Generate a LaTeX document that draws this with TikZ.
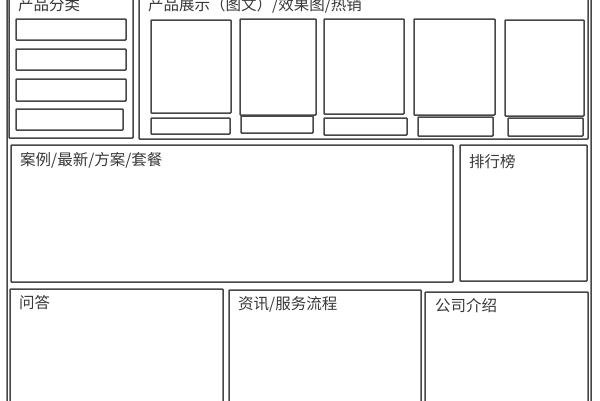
\documentclass[tikz,border=0pt]{standalone}
\usepackage{fontspec}
\newfontfamily\cjk{Noto Sans CJK SC}
\begin{document}
\begin{tikzpicture}[x=1pt,y=-1pt,
  box/.style={draw=black!72,line width=1.5pt,rounded corners=0.8pt},
  lbl/.style={anchor=west,inner sep=0pt,font=\cjk\fontsize{15.5}{16}\selectfont,text=black!78}]
\useasboundingbox[fill=white] (0,0) rectangle (600,400);
\begin{scope}
\clip (0,0) rectangle (600,400);
% outer frame
\draw[box] (7,-10) rectangle (591,410);
% top left panel
\draw[box] (9,-10) rectangle (133,138);
\draw[box] (16,19) rectangle (126,40);
\draw[box] (16,49) rectangle (126,70);
\draw[box] (16,79) rectangle (126,101);
\draw[box] (16,109) rectangle (123,130);
% top right panel
\draw[box] (139,-10) rectangle (588,139);
\draw[box] (151,20) rectangle (231,113);
\draw[box] (151,118) rectangle (230,134);
\draw[box] (240,19) rectangle (316,115);
\draw[box] (241,116) rectangle (313,133);
\draw[box] (324,19) rectangle (404,114);
\draw[box] (324,118) rectangle (407,135);
\draw[box] (414,19) rectangle (495,115);
\draw[box] (418,117) rectangle (493,136);
\draw[box] (505,20) rectangle (584,116);
\draw[box] (508,118) rectangle (583,136);
% middle row
\draw[box] (11,145) rectangle (453,282);
\draw[box] (460,145) rectangle (587,281);
% bottom row
\draw[box] (10,289) rectangle (223,410);
\draw[box] (229,290) rectangle (421,410);
\draw[box] (425,292) rectangle (588,410);
% labels
\node[lbl] (t1) at (18,4.5) {产品分类};
\node[lbl] (t2) at (148,5) {产品展示（图文）/效果图/热销};
\node[lbl] (t3) at (20,160) {案例/最新/方案/套餐};
\node[lbl] (t4) at (469,162) {排行榜};
\node[lbl] (t5) at (19,303) {问答};
\node[lbl] (t6) at (238,304) {资讯/服务流程};
\node[lbl] (t7) at (435,306) {公司介绍};
\end{scope}
\end{tikzpicture}
\end{document}
